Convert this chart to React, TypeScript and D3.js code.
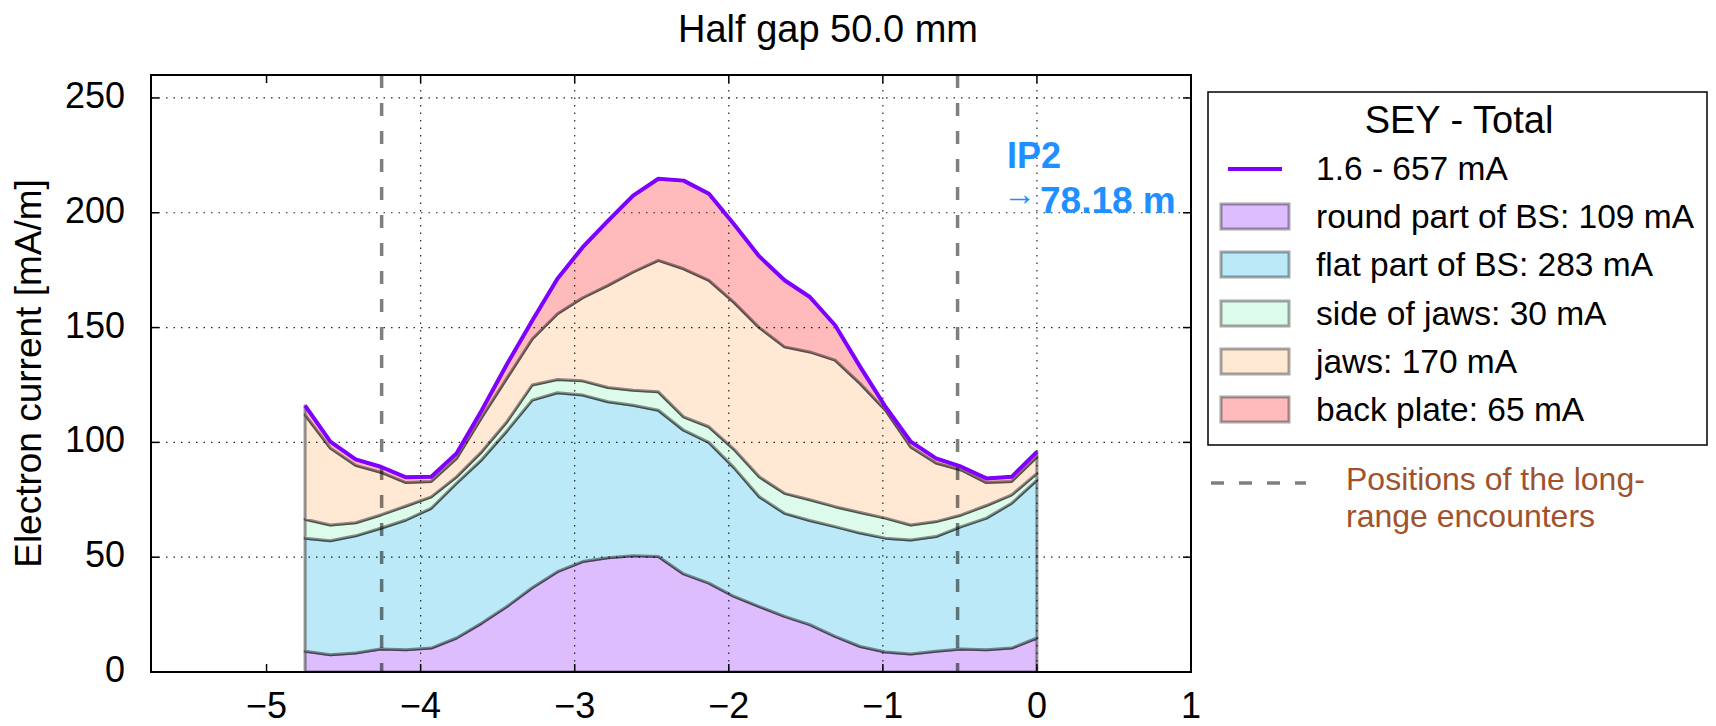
import React from 'react';
import * as d3 from 'd3';

// ---- data ----
const positions = [-4.75, -4.586, -4.422, -4.259, -4.095, -3.931, -3.767, -3.603, -3.44, -3.276, -3.112, -2.948, -2.784, -2.621, -2.457, -2.293, -2.129, -1.966, -1.802, -1.638, -1.474, -1.31, -1.147, -0.983, -0.819, -0.655, -0.491, -0.328, -0.164, 0];
const roundPart = [9.0, 7.5, 8.3, 10.0, 9.7, 10.4, 14.8, 21.3, 28.5, 36.7, 43.7, 48.1, 49.8, 50.6, 50.3, 42.7, 38.7, 32.9, 28.5, 24.2, 20.6, 15.5, 11.1, 8.7, 7.8, 9.0, 10.0, 9.7, 10.4, 14.8];
const flatPart = [49.3, 49.7, 51.0, 52.6, 56.5, 60.9, 67.4, 71.2, 76.5, 81.7, 77.9, 72.5, 67.9, 65.6, 63.7, 62.6, 61.3, 56.1, 47.8, 44.9, 45.4, 47.8, 49.4, 49.6, 49.7, 50.0, 53.3, 57.3, 63.1, 68.8];
const sideOfJaws = [8.2, 6.8, 5.7, 5.8, 6.1, 5.0, 2.8, 3.5, 4.0, 6.6, 5.8, 6.2, 6.2, 6.5, 8.0, 5.8, 6.8, 8.0, 8.7, 8.7, 9.0, 8.7, 9.0, 8.7, 6.5, 6.5, 5.1, 5.5, 3.6, 2.9];
const jaws = [45.5, 33.5, 25.0, 18.6, 10.2, 6.7, 8.0, 15.0, 19.0, 20.0, 28.6, 36.2, 44.5, 51.5, 57.3, 64.5, 63.8, 64.0, 65.0, 63.8, 64.4, 63.8, 56.1, 47.0, 34.0, 25.5, 19.6, 10.0, 5.9, 7.2];
const backPlate = [4.0, 2.8, 2.6, 2.4, 2.3, 2.0, 2.2, 3.0, 6.0, 8.0, 15.3, 22.0, 28.1, 33.3, 35.5, 38.4, 37.7, 34.0, 31.0, 29.0, 23.9, 15.2, 7.3, 1.5, 2.3, 2.0, 1.4, 1.8, 2.0, 2.2];
const longRangeEncounters = [-4.253, -0.515];
const xTicks = [-5, -4, -3, -2, -1, 0, 1];
const yTicks = [0, 50, 100, 150, 200, 250];
const layerKeys = ['round', 'flat', 'side', 'jaws', 'back'];
const layerLabels = ['round part of BS: 109 mA', 'flat part of BS: 283 mA', 'side of jaws: 30 mA', 'jaws: 170 mA', 'back plate: 65 mA'];
const layerColors = ['#ddbdfd', '#bbe9f7', '#ddfbea', '#ffe8d4', '#ffbbbb'];
const totalLabel = '1.6 - 657 mA';
const legendTitle = 'SEY - Total';
const chartTitle = 'Half gap 50.0 mm';
const yLabel = 'Electron current [mA/m]';

const FONT = '"Liberation Sans", Arial, sans-serif';

export default function App() {
  const W = 1716, H = 726;
  const L = 151, R = 1191, T = 75, B = 672;
  const x = d3.scaleLinear().domain([-5.75, 1]).range([L, R]);
  const y = d3.scaleLinear().domain([0, 260]).range([B, T]);

  const rows = positions.map((p, i) => ({
    p,
    round: roundPart[i],
    flat: flatPart[i],
    side: sideOfJaws[i],
    jaws: jaws[i],
    back: backPlate[i],
  }));
  const stacked = d3.stack<any>().keys(layerKeys)(rows);
  const area = d3.area<any>()
    .x((d: any) => x(d.data.p))
    .y0((d: any) => y(d[0]))
    .y1((d: any) => y(d[1]));
  const totalLine = d3.line<any>()
    .x((d: any) => x(d.p))
    .y((d: any) => y(d.round + d.flat + d.side + d.jaws + d.back));

  const tickLen = 8;
  const legendRows = [180, 228, 276, 325, 373, 421];

  return (
    <svg width={W} height={H} style={{ position: 'absolute', left: 0, top: 0, background: '#fff' }} fontFamily={FONT}>
      <rect x={0} y={0} width={W} height={H} fill="#fff" />
      <text x={828} y={42} fontSize={38} textAnchor="middle" fill="#000">{chartTitle}</text>

      <defs>
        <clipPath id="plotclip"><rect x={L} y={T} width={R - L} height={B - T} /></clipPath>
      </defs>

      {/* stacked areas */}
      <g clipPath="url(#plotclip)">
        {stacked.map((s: any, i: number) => (
          <path key={i} d={area(s) + 'Z'} fill={layerColors[i]} stroke="rgba(0,0,0,0.42)" strokeWidth={3} strokeLinejoin="round" />
        ))}
      </g>

      {/* grid */}
      <g stroke="#000" strokeWidth={1.2} strokeDasharray="1.5,6" opacity={0.85}>
        {xTicks.slice(1, -1).map((t) => (
          <line key={'gx' + t} x1={x(t)} x2={x(t)} y1={T} y2={B} />
        ))}
        {yTicks.slice(1).map((t) => (
          <line key={'gy' + t} x1={L} x2={R} y1={y(t)} y2={y(t)} />
        ))}
      </g>

      {/* long-range encounter positions */}
      {longRangeEncounters.map((p) => (
        <line key={'lr' + p} x1={x(p)} x2={x(p)} y1={T} y2={B} stroke="#000" strokeOpacity={0.5} strokeWidth={3.5} strokeDasharray="13,15" />
      ))}

      {/* total line */}
      <path d={totalLine(rows) || ''} fill="none" stroke="#7f00ff" strokeWidth={4} strokeLinejoin="round" />

      {/* frame & ticks */}
      <rect x={L} y={T} width={R - L} height={B - T} fill="none" stroke="#000" strokeWidth={2} />
      <g stroke="#000" strokeWidth={1.5}>
        {xTicks.map((t) => (
          <g key={'tx' + t}>
            <line x1={x(t)} x2={x(t)} y1={B} y2={B - tickLen} />
            <line x1={x(t)} x2={x(t)} y1={T} y2={T + tickLen} />
          </g>
        ))}
        {yTicks.map((t) => (
          <g key={'ty' + t}>
            <line x1={L} x2={L + tickLen} y1={y(t)} y2={y(t)} />
            <line x1={R} x2={R - tickLen} y1={y(t)} y2={y(t)} />
          </g>
        ))}
      </g>
      {xTicks.map((t) => (
        <text key={'lx' + t} x={x(t)} y={718} fontSize={36} textAnchor="middle" fill="#000">
          {t < 0 ? '\u2212' + Math.abs(t) : String(t)}
        </text>
      ))}
      {yTicks.map((t) => (
        <text key={'ly' + t} x={125} y={y(t) + 10} fontSize={36} textAnchor="end" fill="#000">{t}</text>
      ))}
      <text transform={`translate(41,${(T + B) / 2}) rotate(-90)`} fontSize={37} textAnchor="middle" fill="#000">{yLabel}</text>

      {/* IP2 annotation */}
      <text x={1007} y={168} fontSize={36} fontWeight="bold" fill="#1e90ff">IP2</text>
      <text x={1003} y={213} fontWeight="bold" fill="#1e90ff">
        <tspan fontSize={33} dy={-8}>{'\u2192'}</tspan>
        <tspan fontSize={37} x={1040} dy={8}>78.18 m</tspan>
      </text>

      {/* legend */}
      <rect x={1208} y={92} width={499} height={353} fill="#fff" stroke="#000" strokeWidth={1.5} />
      <text x={1459} y={133} fontSize={38} textAnchor="middle" fill="#000">{legendTitle}</text>
      <line x1={1228} x2={1282} y1={legendRows[0] - 11} y2={legendRows[0] - 11} stroke="#7f00ff" strokeWidth={4} />
      <text x={1316} y={legendRows[0]} fontSize={33.5} fill="#000">{totalLabel}</text>
      {layerLabels.map((lab, i) => (
        <g key={'leg' + i}>
          <rect x={1221} y={legendRows[i + 1] - 24} width={68} height={25} fill={layerColors[i]} stroke="rgba(0,0,0,0.35)" strokeWidth={3} />
          <text x={1316} y={legendRows[i + 1]} fontSize={33.5} fill="#000">{lab}</text>
        </g>
      ))}

      {/* long-range legend entry */}
      <line x1={1211} x2={1306} y1={483} y2={483} stroke="#000" strokeOpacity={0.5} strokeWidth={3.5} strokeDasharray="13,15" />
      <text x={1346} y={490} fontSize={32} fill="#a0522d">Positions of the long-</text>
      <text x={1346} y={527} fontSize={32} fill="#a0522d">range encounters</text>
    </svg>
  );
}
